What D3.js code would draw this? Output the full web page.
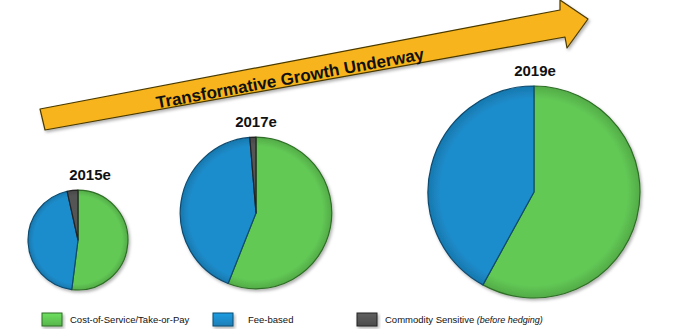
<!DOCTYPE html>
<html><head><meta charset="utf-8">
<script src="https://cdn.jsdelivr.net/npm/d3@7"></script>
<style>body{margin:0;background:#fff}svg{display:block}</style>
</head><body>
<script>
// ---- data ----
const years = ["2015e", "2017e", "2019e"];
const categories = ["Cost-of-Service/Take-or-Pay", "Fee-based", "Commodity Sensitive"];
const costOfService = [52, 56, 58];
const feeBased = [44.5, 42.7, 42];
const commoditySensitive = [3.5, 1.3, 0];
const relativeSize = [1, 2.3, 4.5];
const arrowLabel = "Transformative Growth Underway";

// ---- layout ----
const W = 700, H = 335;
const svg = d3.select("body").append("svg").attr("width", W).attr("height", H);
const defs = svg.append("defs");

const colors = ["#62c955", "#1c8dcc", "#555555"];
const dark = ["#2f6e26", "#0d4a70", "#222"];
function radGrad(id, c, r) {
  const g = defs.append("radialGradient").attr("id", id).attr("gradientUnits", "userSpaceOnUse")
    .attr("cx", 0).attr("cy", 0).attr("r", r);
  g.append("stop").attr("offset", 0.88).attr("stop-color", c);
  g.append("stop").attr("offset", 1).attr("stop-color", d3.color(c).darker(0.45));
}
colors.forEach((c, i) => {
  const g = defs.append("linearGradient").attr("id", "lg" + i).attr("x1", 0).attr("y1", 0).attr("x2", 0).attr("y2", 1);
  g.append("stop").attr("offset", 0).attr("stop-color", d3.color(c).brighter(0.3));
  g.append("stop").attr("offset", 1).attr("stop-color", d3.color(c).darker(0.3));
});
const ag = defs.append("linearGradient").attr("id", "ag").attr("x1", 0).attr("y1", 0).attr("x2", 0).attr("y2", 1);
ag.append("stop").attr("offset", 0).attr("stop-color", "#ffd23a");
ag.append("stop").attr("offset", 0.5).attr("stop-color", "#f9b81c");
ag.append("stop").attr("offset", 1).attr("stop-color", "#e79e10");
const sh = defs.append("filter").attr("id", "sh").attr("x", "-20%").attr("y", "-20%").attr("width", "140%").attr("height", "140%");
sh.append("feDropShadow").attr("dx", 1.5).attr("dy", 2).attr("stdDeviation", 1.5).attr("flood-color", "#000").attr("flood-opacity", 0.3);

// arrow
const arrowPts = [[40,109],[560,10],[560,0],[588,19],[567,48],[565,37],[45,130]];
svg.append("path").attr("d", d3.line()(arrowPts) + "Z")
  .attr("fill", "#f7b41c").attr("stroke", "#4a3a00").attr("stroke-width", 1.2)
  .attr("stroke-linejoin", "round").attr("filter", "url(#sh)");
svg.append("text").attr("transform", "translate(291,84) rotate(-10.4)")
  .attr("text-anchor", "middle").attr("font-family", "Liberation Sans, Arial, sans-serif")
  .attr("font-weight", "bold").attr("font-size", 17).attr("fill", "#111").text(arrowLabel);

// pies
const rScale = d3.scaleSqrt().domain([0, d3.max(relativeSize)]).range([0, 106]);
const centers = [[78, 240], [256, 213], [534, 192]];
const titleX = [90, 256, 535];
const pie = d3.pie().sort(null).value(d => d);
years.forEach((yr, i) => {
  const vals = [costOfService[i], feeBased[i], commoditySensitive[i]];
  const r = rScale(relativeSize[i]);
  colors.forEach((c, k) => radGrad(`p${i}_${k}`, c, r));
  const g = svg.append("g").attr("transform", `translate(${centers[i][0]},${centers[i][1]})`);
  const arc = d3.arc().innerRadius(0).outerRadius(r);
  const gg = g.append("g").attr("filter", "url(#sh)");
  gg.selectAll("path").data(pie(vals).filter(d => d.value > 0)).join("path")
    .attr("d", arc)
    .attr("fill", d => `url(#p${i}_${d.index})`)
    .attr("stroke", d => dark[d.index]).attr("stroke-width", 1.2).attr("stroke-linejoin", "round");
  svg.append("text").attr("x", titleX[i]).attr("y", centers[i][1] - r - 10)
    .attr("text-anchor", "middle").attr("font-family", "Liberation Sans, Arial, sans-serif")
    .attr("font-weight", "bold").attr("font-size", 15).attr("fill", "#111").text(yr);
});

// legend
const legX = [42, 213, 357];
const leg = svg.append("g").attr("font-family", "Liberation Sans, Arial, sans-serif").attr("font-size", 9.5).attr("fill", "#111");
categories.forEach((c, i) => {
  leg.append("rect").attr("x", legX[i]).attr("y", 313).attr("width", 20).attr("height", 13)
    .attr("fill", `url(#lg${i})`).attr("stroke", dark[i]).attr("stroke-width", 1).attr("filter", "url(#sh)");
  const t = leg.append("text").attr("x", legX[i] + (i === 1 ? 35 : 28)).attr("y", 323);
  t.append("tspan").text(c);
  if (i === 2) t.append("tspan").attr("font-style", "italic").attr("font-size", 9).text(" (before hedging)");
});
</script>
</body></html>
